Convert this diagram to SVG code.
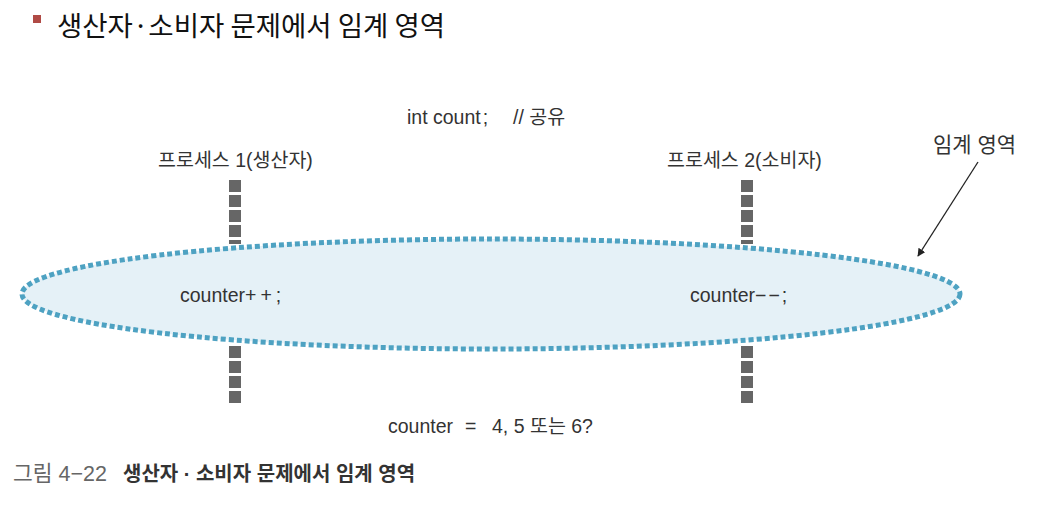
<svg xmlns="http://www.w3.org/2000/svg" width="1041" height="525" viewBox="0 0 1041 525">
<defs>
<style>
text{font-family:"Liberation Sans","Noto Sans CJK KR",sans-serif;fill:#333}
.k{font-family:"Noto Sans CJK KR","Liberation Sans",sans-serif}
.lbl{font-size:19.5px}
.bar{stroke:#666;stroke-width:12;stroke-dasharray:12 3;fill:none}
</style>
<marker id="ah" viewBox="0 0 10 10" refX="9" refY="5" markerWidth="8" markerHeight="8" orient="auto" markerUnits="userSpaceOnUse">
<path d="M0,0 L10,5 L0,10 Z" fill="#222"/>
</marker>
</defs>
<rect width="1041" height="525" fill="#fff"/>
<g id="title">
<rect x="33" y="15" width="8" height="8" fill="#b04a45"/>
<text x="57" y="36" class="k" style="font-size:27.5px;fill:#111">생산자·소비자 문제에서 임계 영역</text>
</g>
<g id="shared">
<text y="124" class="lbl"><tspan x="407">int count</tspan><tspan dx="2">;</tspan><tspan x="513">// 공유</tspan></text>
</g>
<g id="connectors">
<line class="bar" x1="235" y1="180" x2="235" y2="244"/>
<line class="bar" x1="747" y1="180" x2="747" y2="244"/>
<line class="bar" x1="235" y1="346" x2="235" y2="406"/>
<line class="bar" x1="747" y1="346" x2="747" y2="406"/>
<line x1="978" y1="162" x2="918" y2="256" stroke="#222" stroke-width="1.3" marker-end="url(#ah)"/>
</g>
<g id="critical-region">
<ellipse cx="491" cy="294" rx="469" ry="55" fill="#e5f1f7" stroke="#4ea2c2" stroke-width="5" stroke-dasharray="5 3"/>
<text x="180" y="302" class="lbl">counter<tspan letter-spacing="4">++</tspan>;</text>
<text x="690" y="302" class="lbl">counter<tspan letter-spacing="2">−−</tspan>;</text>
</g>
<g id="process1">
<text x="158" y="167" class="lbl">프로세스 1(생산자)</text>
</g>
<g id="process2">
<text x="667" y="167" class="lbl">프로세스 2(소비자)</text>
</g>
<g id="critical-label">
<text x="933" y="152" style="font-size:21px">임계 영역</text>
</g>
<g id="result">
<text y="433" class="lbl"><tspan x="388">counter</tspan><tspan x="465">=</tspan><tspan x="492">4, 5 또는 6?</tspan></text>
</g>
<g id="caption">
<text x="13" y="481" style="font-size:20px"><tspan style="fill:#666;font-size:21.5px">그림 4−22</tspan><tspan x="123" style="font-weight:bold;fill:#333">생산자 · 소비자 문제에서 임계 영역</tspan></text>
</g>
</svg>
